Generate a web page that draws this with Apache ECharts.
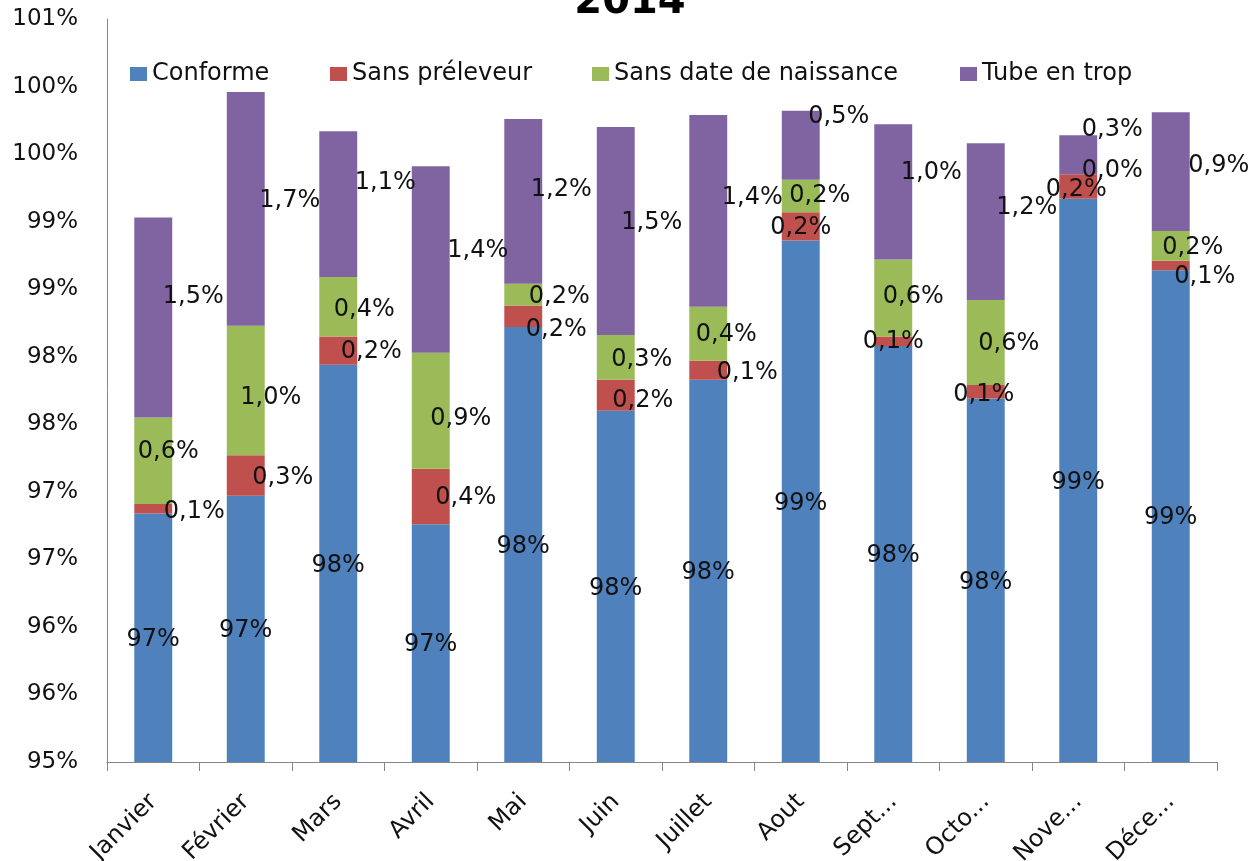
<!DOCTYPE html>
<html><head><meta charset="utf-8">
<script src="https://cdn.jsdelivr.net/npm/echarts@6/dist/echarts.min.js"></script>
<style>html,body{margin:0;padding:0;background:#fff}#c{width:1260px;height:861px}</style>
</head><body><div id="c"></div>
<script>
const titleText = '2014';
const categories = ['Janvier','Février','Mars','Avril','Mai','Juin','Juillet','Aout','Sept...','Octo...','Nove...','Déce...'];
const seriesNames = ['Conforme','Sans préleveur','Sans date de naissance','Tube en trop'];
const conforme      = [96.84, 96.97, 97.94, 96.76, 98.22, 97.60, 97.83, 98.86, 98.08, 97.69, 99.17, 98.64];
const sansPreleveur = [0.07, 0.30, 0.21, 0.41, 0.16, 0.23, 0.14, 0.21, 0.07, 0.10, 0.18, 0.07];
const sansDate      = [0.64, 0.96, 0.44, 0.86, 0.16, 0.33, 0.40, 0.24, 0.57, 0.63, 0.00, 0.22];
const tubeEnTrop    = [1.48, 1.73, 1.08, 1.38, 1.22, 1.54, 1.42, 0.51, 1.00, 1.16, 0.29, 0.88];
const yMin = 95, yMax = 100.5, yStep = 0.5;

// label nudges (layout only), [dx, dy] per bar
const nudgeRed    = [[41,3],[37,2],[33,1],[35,1],[33,14],[27,6],[39,3],[0,1],[0,1],[-2,3],[-2,3],[34,11]];
const nudgeGreen  = [[15,-9],[25,7],[26,3],[30,8],[36,2],[26,2],[18,1],[19,0],[20,-1],[23,1],[34,-4],[22,2]];
const nudgePurple = [[40,-21],[44,-8],[47,-21],[47,-9],[38,-12],[36,-8],[44,-13],[38,-29],[38,-19],[41,-14],[34,-25],[48,-6]];

const colors = ['#4F81BD','#C0504D','#9BBB59','#8064A2'];
const FONT = 'DejaVu Sans';

function items(vals, nudges) {
  return vals.map((v, i) => nudges ? { value: v, label: { offset: nudges[i] } } : { value: v });
}
const pct1 = p => p.value.toFixed(1).replace('.', ',') + '%';
const pct0 = p => Math.round(p.value) + '%';

function bar(name, vals, nudges, fmt, color) {
  return {
    name: name, type: 'bar', stack: 'total', barWidth: '41%',
    itemStyle: { color: color },
    label: { show: true, position: 'inside', formatter: fmt, color: '#111',
             fontFamily: FONT, fontSize: 24, offset: [0, 2] },
    data: items(vals, nudges)
  };
}

const legendLefts = [130, 330, 592, 960];
const chart = echarts.init(document.getElementById('c'));
chart.setOption({
  backgroundColor: '#fff',
  animation: false,
  color: colors,
  title: { text: titleText, left: 'center', top: -22,
           textStyle: { fontFamily: FONT, fontWeight: 'bold', fontSize: 40, color: '#000' } },
  legend: seriesNames.map((n, i) => ({
    data: [n], left: legendLefts[i], top: 62, padding: 0,
    itemWidth: 17, itemHeight: 14, icon: 'rect',
    textStyle: { fontFamily: FONT, fontSize: 24, color: '#111' }
  })),
  grid: { left: 107, right: 43, top: 19, bottom: 99, containLabel: false, outerBoundsMode: 'none' },
  xAxis: {
    type: 'category', data: categories,
    axisLine: { lineStyle: { color: '#868686', width: 1 } },
    axisTick: { show: true, length: 9, lineStyle: { color: '#868686' } },
    axisLabel: { rotate: 45, margin: 36, interval: 0, fontFamily: FONT, fontSize: 24, color: '#111' }
  },
  yAxis: {
    type: 'value', min: yMin, max: yMax, interval: yStep,
    axisLine: { show: true, lineStyle: { color: '#868686', width: 1 } },
    axisTick: { show: false },
    splitLine: { show: false },
    axisLabel: { formatter: v => Math.round(v) + '%', margin: 29,
                 fontFamily: FONT, fontSize: 23, color: '#111' }
  },
  series: [
    bar(seriesNames[0], conforme, null, pct0, colors[0]),
    bar(seriesNames[1], sansPreleveur, nudgeRed, pct1, colors[1]),
    bar(seriesNames[2], sansDate, nudgeGreen, pct1, colors[2]),
    bar(seriesNames[3], tubeEnTrop, nudgePurple, pct1, colors[3])
  ]
});
</script></body></html>
